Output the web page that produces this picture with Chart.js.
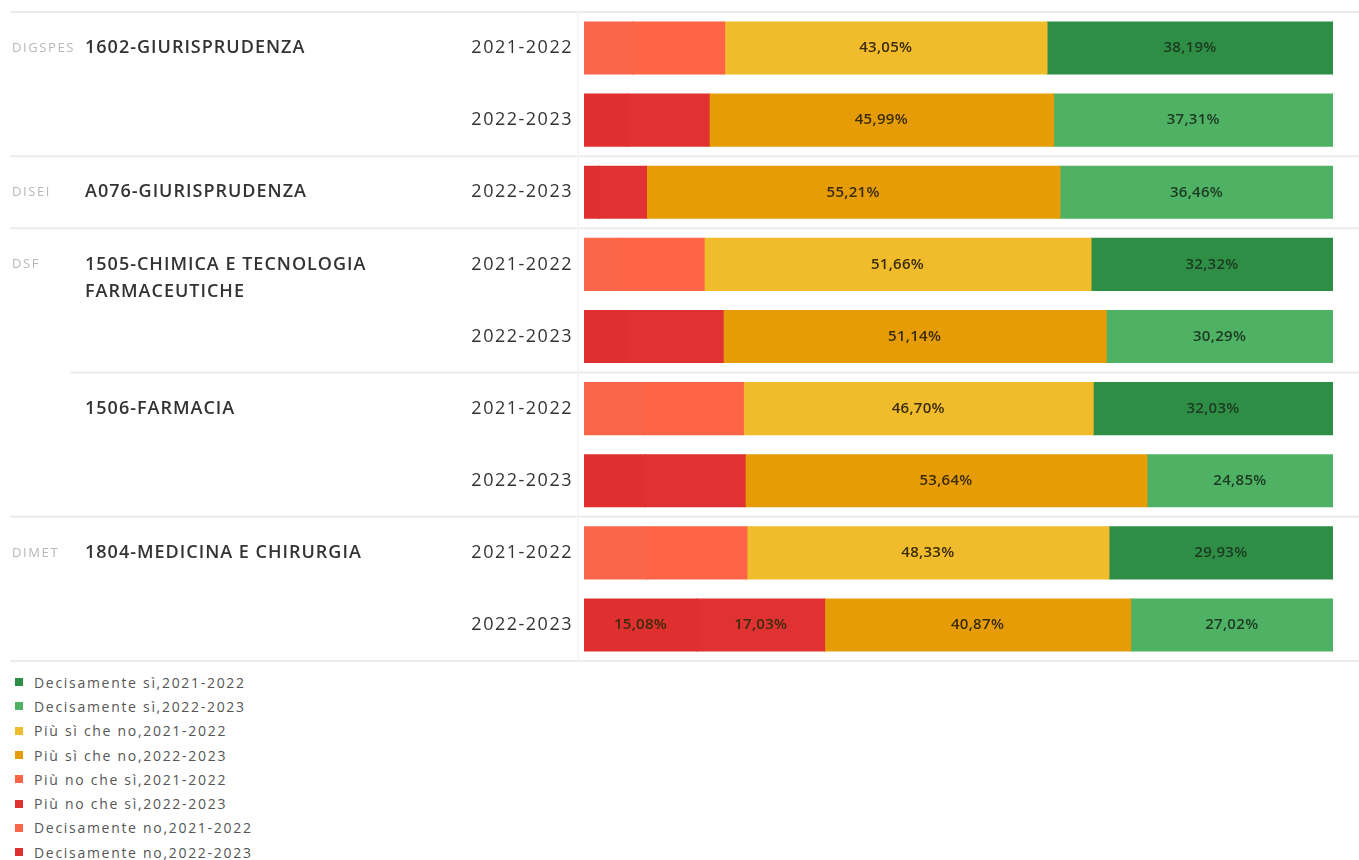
<!DOCTYPE html>
<html>
<head>
<meta charset="utf-8">
<script src="https://cdn.jsdelivr.net/npm/chart.js@4/dist/chart.umd.min.js"></script>
<style>
  body { margin: 0; background: #fff; font-family: "Open Sans", sans-serif; }
  #wrap { position: relative; width: 1359px; height: 860px; overflow: hidden; }
  #legend { position: absolute; left: 15px; top: 670px; }
  .item { height: 24.3px; display: flex; align-items: center; font-size: 14px; color: #555; letter-spacing: 1.7px; }
  .box { width: 8px; height: 8px; margin-right: 11px; }
</style>
</head>
<body>
<div id="wrap">
  <canvas id="myCanvas" width="1359" height="668"></canvas>
  <div id="legend"></div>
</div>
<script>
// one entry per bar row
const years = ['2021-2022', '2022-2023', '2022-2023', '2021-2022', '2022-2023', '2021-2022', '2022-2023', '2021-2022', '2022-2023'];
const courses = ['1602-GIURISPRUDENZA', '1602-GIURISPRUDENZA', 'A076-GIURISPRUDENZA',
  '1505-CHIMICA E TECNOLOGIA FARMACEUTICHE', '1505-CHIMICA E TECNOLOGIA FARMACEUTICHE',
  '1506-FARMACIA', '1506-FARMACIA', '1804-MEDICINA E CHIRURGIA', '1804-MEDICINA E CHIRURGIA'];
const depts = ['DIGSPES', 'DIGSPES', 'DISEI', 'DSF', 'DSF', 'DSF', 'DSF', 'DIMET', 'DIMET'];

// percentages (small red pieces estimated, labels hidden in the original)
const decisamenteNo = [6.50, 5.80, 2.08, 4.50, 5.71, 8.00, 8.20, 8.50, 15.08];
const piuNoCheSi = [12.26, 10.90, 6.25, 11.52, 12.86, 13.27, 13.31, 13.24, 17.03];
const piuSiCheNo = [43.05, 45.99, 55.21, 51.66, 51.14, 46.70, 53.64, 48.33, 40.87];
const decisamenteSi = [38.19, 37.31, 36.46, 32.32, 30.29, 32.03, 24.85, 29.93, 27.02];

const yearList = ['2021-2022', '2022-2023'];
const colors = {
  'Decisamente no': ['#fb654a', '#df2f2f'],
  'Più no che sì': ['#fd6546', '#e03232'],
  'Più sì che no': ['#f1bc2b', '#e59c06'],
  'Decisamente sì': ['#2f8e45', '#4fb163']
};
const series = [
  ['Decisamente no', decisamenteNo],
  ['Più no che sì', piuNoCheSi],
  ['Più sì che no', piuSiCheNo],
  ['Decisamente sì', decisamenteSi]
];

const datasets = [];
series.forEach(([name, vals]) => {
  yearList.forEach((yr, k) => {
    datasets.push({
      label: name + ',' + yr,
      data: vals.map((v, i) => years[i] === yr ? v : null),
      backgroundColor: colors[name][k],
      borderWidth: 0,
      inflateAmount: 0.6,
      categoryPercentage: 1,
      barPercentage: 0.72
    });
  });
});

function fmt(v) { return v.toFixed(2).replace('.', ',') + '%'; }

function wrapText(ctx, text, maxW) {
  const words = text.split(' ');
  const lines = [];
  let cur = '';
  words.forEach(w => {
    const t = cur ? cur + ' ' + w : w;
    if (ctx.measureText(t).width > maxW && cur) { lines.push(cur); cur = w; }
    else cur = t;
  });
  lines.push(cur);
  return lines;
}

const tablePlugin = {
  id: 'tablePlugin',
  beforeDraw(chart) {
    const ctx = chart.ctx, y = chart.scales.y, area = chart.chartArea;
    ctx.save();
    ctx.strokeStyle = '#ececec';
    ctx.lineWidth = 2;
    const line = (x0, yy) => { ctx.beginPath(); ctx.moveTo(x0, yy); ctx.lineTo(chart.width, yy); ctx.stroke(); };
    line(10, area.top);
    line(10, area.bottom);
    for (let i = 0; i < years.length - 1; i++) {
      if (courses[i] !== courses[i + 1]) {
        const yy = (y.getPixelForValue(i) + y.getPixelForValue(i + 1)) / 2;
        line(depts[i] === depts[i + 1] ? 70 : 10, yy);
      }
    }
    ctx.strokeStyle = '#f5f5f5';
    ctx.beginPath(); ctx.moveTo(area.left - 6, area.top); ctx.lineTo(area.left - 6, area.bottom); ctx.stroke();
    ctx.restore();
  },
  afterDraw(chart) {
    const ctx = chart.ctx, y = chart.scales.y, area = chart.chartArea;
    ctx.save();
    ctx.textBaseline = 'middle';
    years.forEach((yr, i) => {
      const py = y.getPixelForValue(i);
      ctx.fillStyle = '#333';
      ctx.textAlign = 'right';
      ctx.font = '18px "Open Sans"';
      ctx.letterSpacing = '1.5px';
      ctx.fillText(yr, area.left - 11, py);
      if (i === 0 || courses[i] !== courses[i - 1]) {
        ctx.textAlign = 'left';
        ctx.font = '600 18px "Open Sans"';
        ctx.letterSpacing = '1px';
        const lines = wrapText(ctx, courses[i], 310);
        lines.forEach((l, k) => ctx.fillText(l, 85, py + k * 27));
        if (i === 0 || depts[i] !== depts[i - 1]) {
          ctx.fillStyle = '#b8b8b8';
          ctx.font = '13px "Open Sans"';
          ctx.letterSpacing = '1.6px';
          ctx.fillText(depts[i], 12, py);
        }
      }
    });
    // value labels inside bars
    ctx.textAlign = 'center';
    ctx.font = '600 15px "Open Sans"';
    ctx.letterSpacing = '0.3px';
    chart.data.datasets.forEach((ds, di) => {
      const meta = chart.getDatasetMeta(di);
      meta.data.forEach((el, i) => {
        const v = ds.data[i];
        if (v == null || v < 14) return;
        ctx.fillStyle = di >= 6 ? '#1c3a21' : '#3a2c0c';
        ctx.fillText(fmt(v), (el.x + el.base) / 2, el.y);
      });
    });
    ctx.restore();
  }
};

const ctx = document.getElementById('myCanvas').getContext('2d');
const chart = new Chart(ctx, {
  type: 'bar',
  data: { labels: years, datasets: datasets },
  options: {
    indexAxis: 'y',
    responsive: false,
    animation: false,
    layout: { padding: { left: 584, right: 26, top: 12, bottom: 7 } },
    scales: {
      x: { stacked: true, min: 0, max: 100, display: false },
      y: { stacked: true, display: false }
    },
    plugins: { legend: { display: false }, tooltip: { enabled: false } }
  },
  plugins: [tablePlugin]
});

// legend: Decisamente sì first, like the original
const legendOrder = [6, 7, 4, 5, 2, 3, 0, 1];
const legendEl = document.getElementById('legend');
legendOrder.forEach(k => {
  const ds = datasets[k];
  const row = document.createElement('div');
  row.className = 'item';
  row.innerHTML = '<span class="box" style="background:' + ds.backgroundColor + '"></span>' + ds.label;
  legendEl.appendChild(row);
});
</script>
</body>
</html>
